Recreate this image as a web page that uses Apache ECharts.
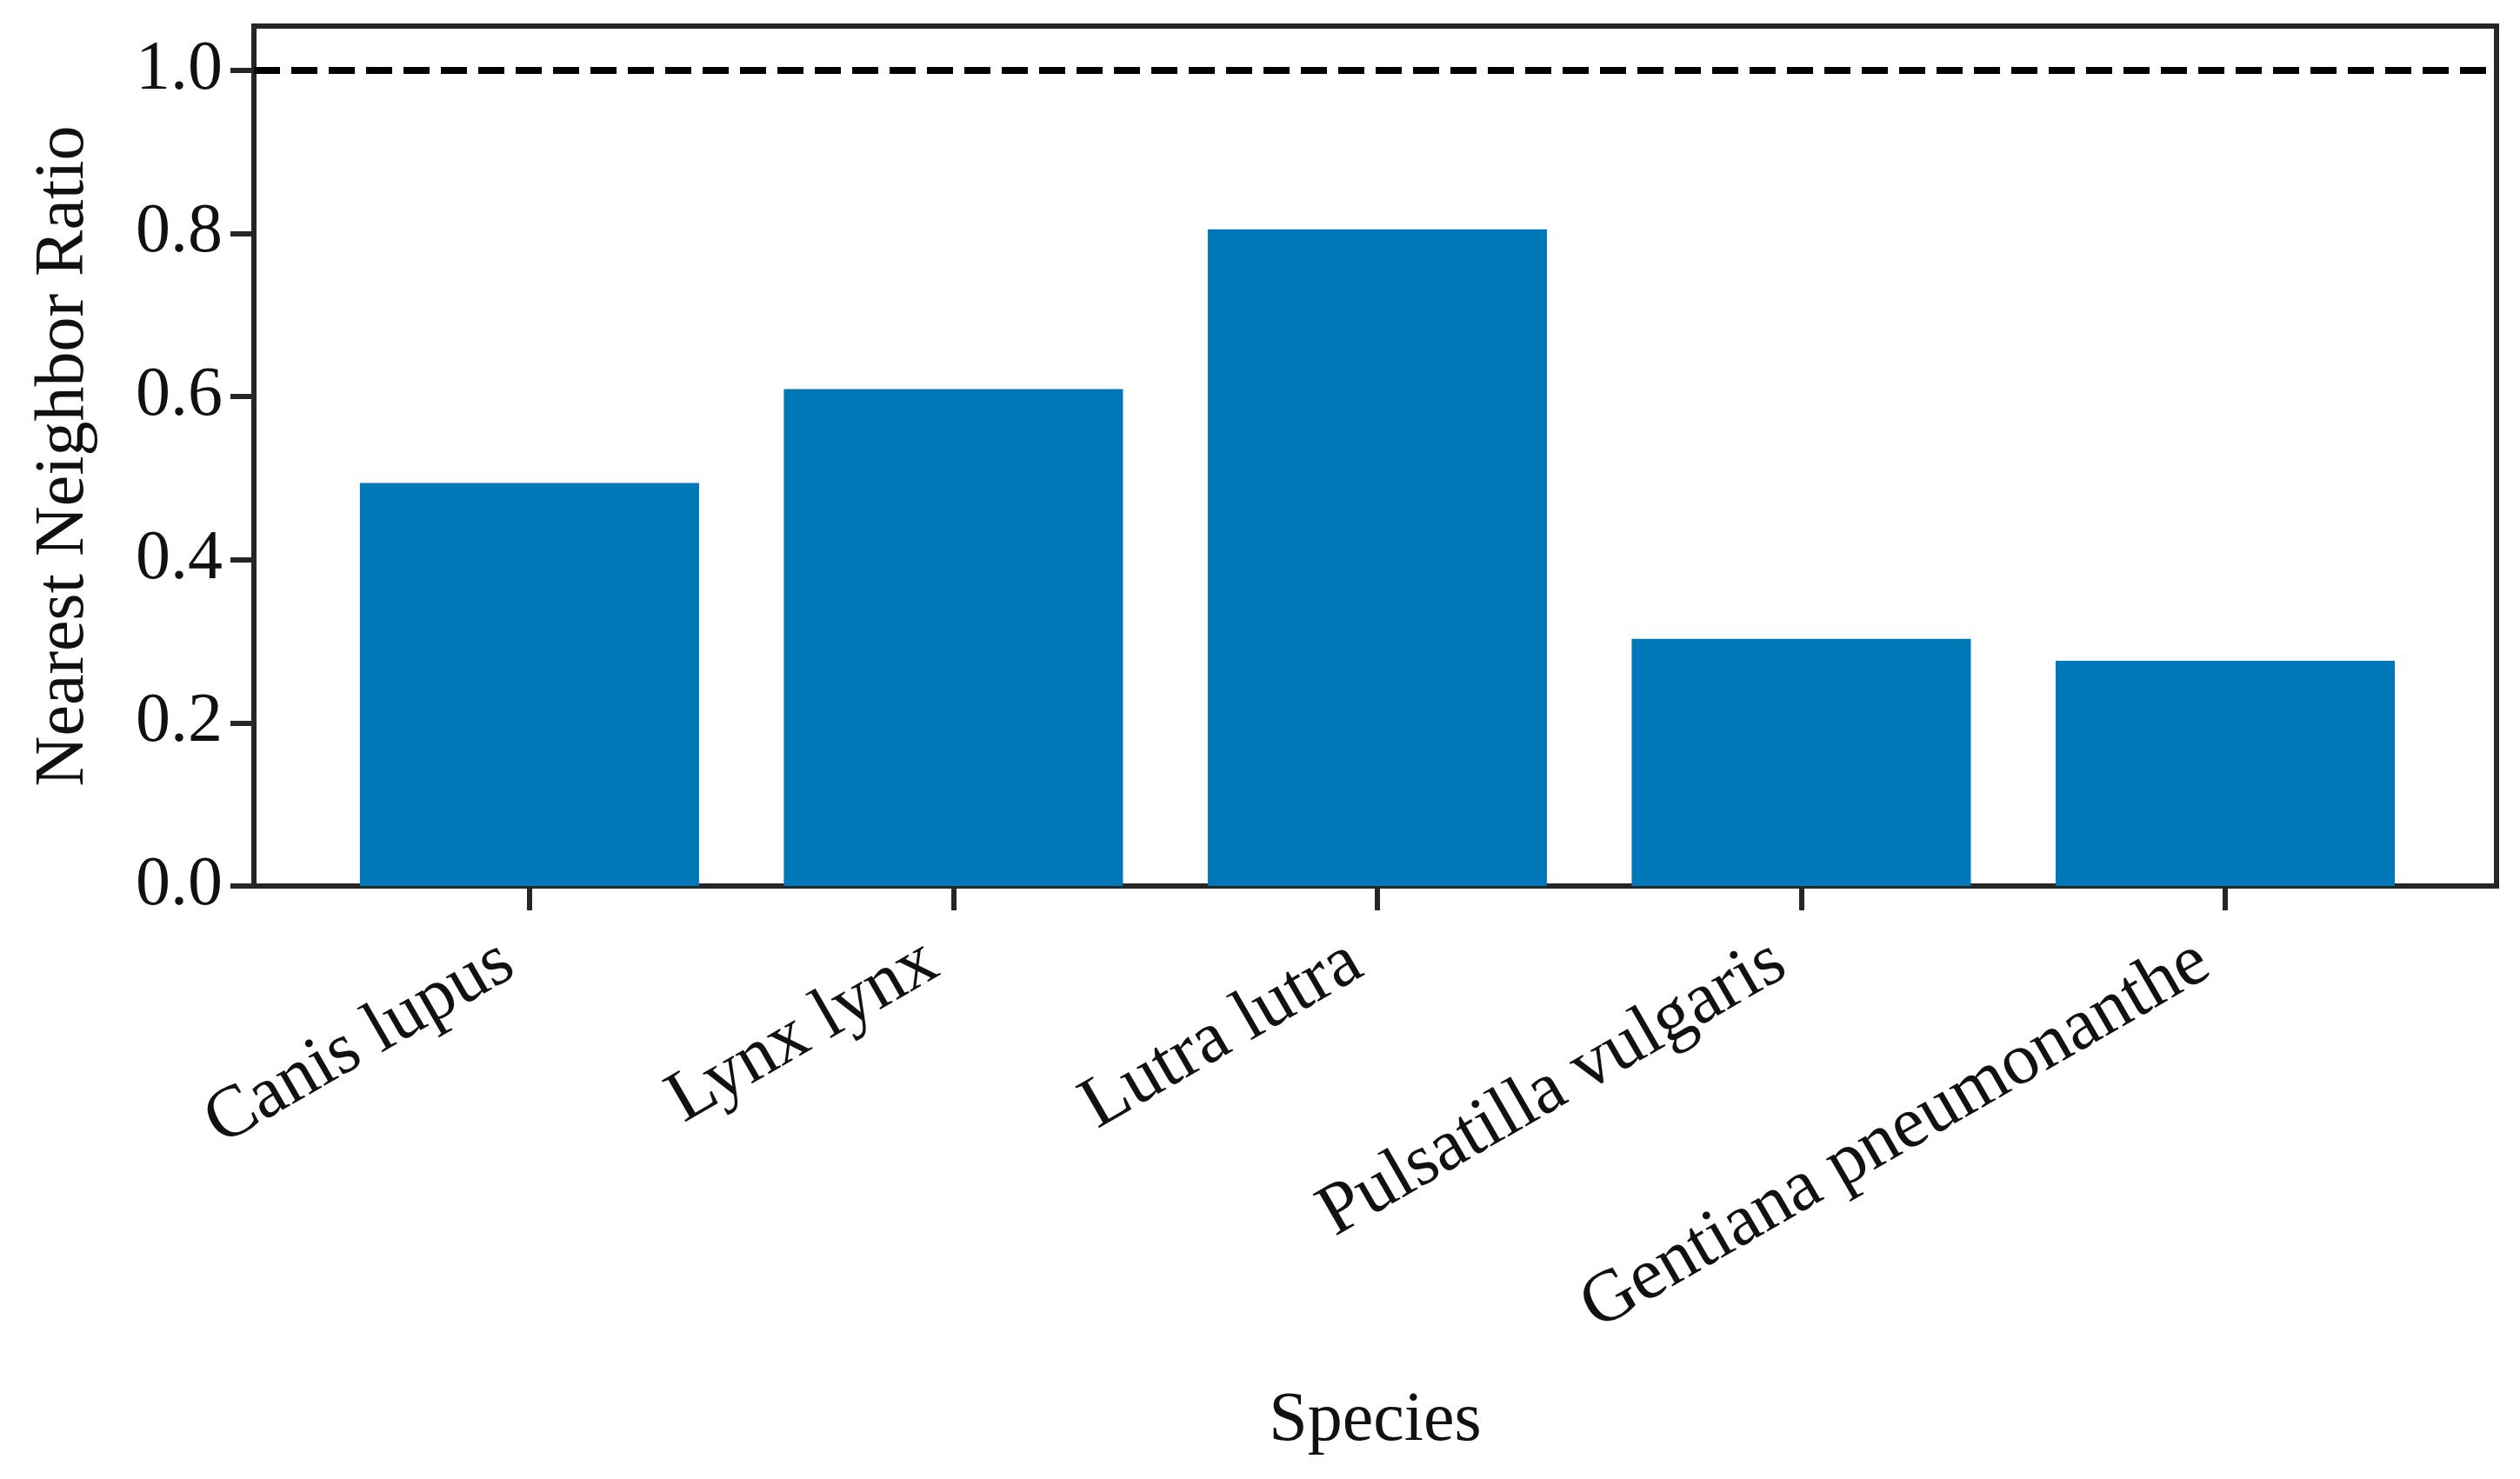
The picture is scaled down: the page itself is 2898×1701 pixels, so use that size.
<!DOCTYPE html>
<html>
<head>
<meta charset="utf-8">
<script src="https://cdn.jsdelivr.net/npm/echarts@6/dist/echarts.min.js"></script>
<style>
html,body{margin:0;padding:0;background:#fff;}
#chart{width:2898px;height:1701px;}
</style>
</head>
<body>
<div id="chart"></div>
<script>
const categories = ["Canis lupus", "Lynx lynx", "Lutra lutra", "Pulsatilla vulgaris", "Gentiana pneumonanthe"];
const ratioValues = [0.494, 0.609, 0.805, 0.303, 0.276];
const yTicks = [0.0, 0.2, 0.4, 0.6, 0.8, 1.0];
const referenceLine = 1.0;

const chart = echarts.init(document.getElementById('chart'));
const W = 2898, gridLeft = 292, gridRight = 27;
const xMin = -0.65, xMax = 4.64;
const band = (W - gridLeft - gridRight) / (xMax - xMin);
const ink = '#262626';
const font = '"Liberation Serif", "DejaVu Serif", serif';

chart.setOption({
  animation: false,
  backgroundColor: '#fff',
  grid: {
    left: gridLeft, right: gridRight, top: 30, bottom: 682,
    show: true, borderColor: ink, borderWidth: 6, backgroundColor: 'transparent'
  },
  xAxis: {
    type: 'value', min: xMin, max: xMax,
    name: 'Species', nameLocation: 'middle', nameGap: 576,
    nameTextStyle: { fontFamily: font, fontSize: 80, color: '#111' },
    axisLine: { show: true, onZero: false, lineStyle: { color: ink, width: 6 } },
    axisTick: { show: true, customValues: [0, 1, 2, 3, 4], length: 28, lineStyle: { color: ink, width: 6 } },
    axisLabel: {
      customValues: [0, 1, 2, 3, 4],
      formatter: v => categories[Math.round(v)],
      rotate: 30, margin: 68, padding: [0, 28, 0, 0],
      fontFamily: font, fontSize: 84, color: '#111'
    },
    splitLine: { show: false }
  },
  yAxis: {
    type: 'value', min: 0, max: 1.054,
    name: 'Nearest Neighbor Ratio', nameLocation: 'middle', nameGap: 178, nameRotate: 90,
    nameTextStyle: { fontFamily: font, fontSize: 80, color: '#111' },
    axisLine: { show: true, onZero: false, lineStyle: { color: ink, width: 6 } },
    axisTick: { show: true, customValues: yTicks, length: 27, lineStyle: { color: ink, width: 6 } },
    axisLabel: {
      customValues: yTicks,
      formatter: v => v.toFixed(1),
      margin: 36, fontFamily: font, fontSize: 80, color: '#111'
    },
    splitLine: { show: false }
  },
  series: [{
    type: 'bar',
    data: ratioValues.map((v, i) => [i, v]),
    barWidth: band * 0.8,
    itemStyle: { color: '#0077b6' },
    markLine: {
      silent: true, symbol: 'none',
      label: { show: false },
      lineStyle: { color: '#000', width: 8, type: [30, 13] },
      data: [{ yAxis: referenceLine }]
    }
  }]
});
</script>
</body>
</html>
